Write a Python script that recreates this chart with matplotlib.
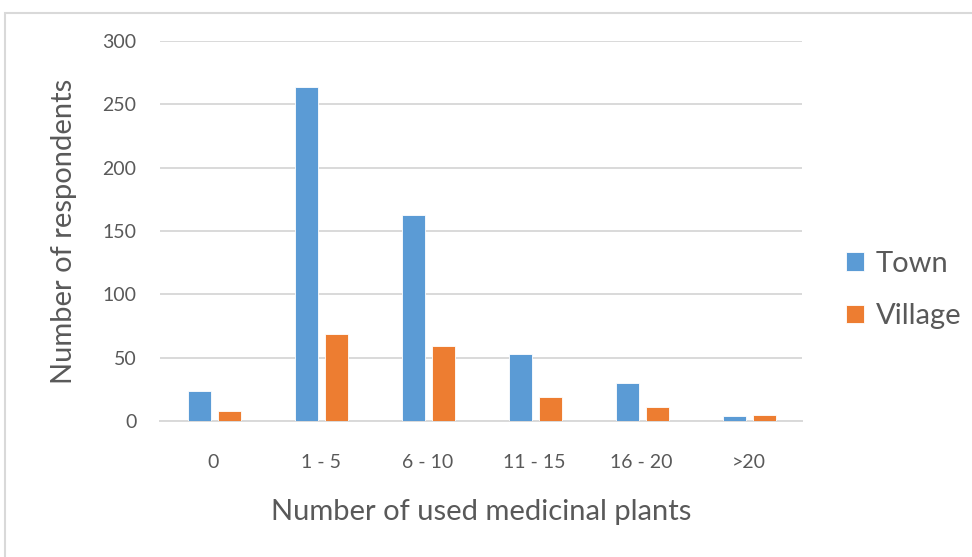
import matplotlib.pyplot as plt
import numpy as np
from matplotlib.patches import Rectangle

categories = ["0", "1 - 5", "6 - 10", "11 - 15", "16 - 20", ">20"]
town = [24, 264, 163, 53, 30, 4]
village = [8, 69, 59, 19, 11, 5]

TOWN_COLOR = "#5B9BD5"
VILLAGE_COLOR = "#ED7D31"
GRID_COLOR = "#D9D9D9"
TEXT_COLOR = "#595959"

plt.rcParams["font.family"] = ["Lato", "DejaVu Sans"]

W, H = 972, 557
fig = plt.figure(figsize=(W / 100, H / 100), dpi=100)

# chart area frame
fig.patches.append(
    Rectangle((4.5 / W, -0.1), 1.2, (H - 12.5) / H + 0.1, transform=fig.transFigure,
              fill=False, edgecolor=GRID_COLOR, linewidth=1.5)
)

ax = fig.add_axes([160 / W, (H - 421) / H, 642 / W, 380 / H])

x = np.arange(len(categories))
width = 0.215
ax.bar(x - 0.13, town, width, color=TOWN_COLOR, edgecolor="white", linewidth=0.6,
       label="Town", zorder=3)
ax.bar(x + 0.15, village, width, color=VILLAGE_COLOR, edgecolor="white", linewidth=0.6,
       label="Village", zorder=3)

ax.set_xlim(-0.5, len(categories) - 0.5)
ax.set_ylim(0, 300)
ax.set_yticks(range(0, 301, 50))
ax.set_xticks(x)
ax.set_xticklabels(categories)

ax.grid(axis="y", color=GRID_COLOR, linewidth=1.4, zorder=0)
for side in ["top", "right", "left"]:
    ax.spines[side].set_visible(False)
ax.spines["bottom"].set_color(GRID_COLOR)
ax.spines["bottom"].set_linewidth(1.4)
ax.tick_params(axis="both", length=0, labelsize=14, colors=TEXT_COLOR)
ax.tick_params(axis="y", pad=17)
ax.tick_params(axis="x", pad=24)

ax.set_ylabel("Number of respondents", fontsize=21, color=TEXT_COLOR, labelpad=18)
ax.set_xlabel("Number of used medicinal plants", fontsize=21, color=TEXT_COLOR, labelpad=20)

ax.legend(loc="center left", bbox_to_anchor=(820 / W, (H - 290) / H),
          bbox_transform=fig.transFigure, frameon=False, fontsize=21,
          labelcolor=TEXT_COLOR, handlelength=0.6, handleheight=0.6,
          handletextpad=0.4, labelspacing=0.9)

fig.savefig("out.png", dpi=100)
